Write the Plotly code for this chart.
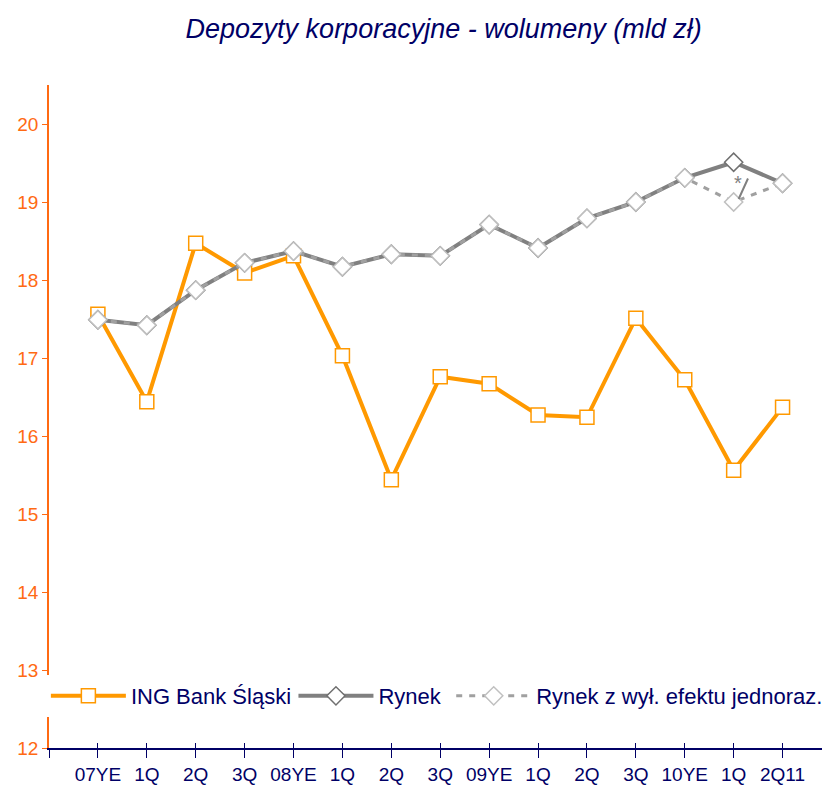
import plotly.graph_objects as go

categories = ["07YE", "1Q", "2Q", "3Q", "08YE", "1Q", "2Q", "3Q", "09YE",
              "1Q", "2Q", "3Q", "10YE", "1Q", "2Q11"]
ing = [17.56, 16.44, 18.47, 18.09, 18.31, 17.03, 15.44, 16.76, 16.67,
       16.27, 16.24, 17.51, 16.72, 15.56, 16.37]
rynek = [17.49, 17.42, 17.87, 18.22, 18.37, 18.17, 18.33, 18.31, 18.71,
         18.41, 18.79, 19.00, 19.31, 19.51, 19.24]
rynek_adj = [17.49, 17.42, 17.87, 18.22, 18.37, 18.17, 18.33, 18.31, 18.71,
             18.41, 18.79, 19.00, 19.31, 19.00, 19.24]
y_ticks = [12, 13, 14, 15, 16, 17, 18, 19, 20]

xs = list(range(len(categories)))
FONT = "Liberation Sans, Arial, sans-serif"
NAVY = "#000066"
ORANGE_AX = "#FF6A13"

fig = go.Figure()
fig.add_trace(go.Scatter(
    x=xs, y=ing, name="ING Bank Śląski", mode="lines+markers", legend="legend",
    line=dict(color="#FF9900", width=4),
    marker=dict(symbol="square", size=14, color="white",
                line=dict(color="#FF9900", width=1.5))))
fig.add_trace(go.Scatter(
    x=xs, y=rynek, name="Rynek", mode="lines+markers", legend="legend2",
    line=dict(color="#808080", width=4),
    marker=dict(symbol="diamond", size=14, color="white",
                line=dict(color="#707070", width=1.5))))
fig.add_trace(go.Scatter(
    x=xs, y=rynek_adj, name="Rynek z wył. efektu jednoraz.", mode="lines+markers",
    legend="legend3",
    line=dict(color="#A0A0A0", width=3, dash="6px,7px"),
    marker=dict(symbol="diamond", size=14, color="white",
                line=dict(color="#C0C0C0", width=1.5))))
# invisible helper trace so the overlaid tick axis is drawn
fig.add_trace(go.Scatter(x=[xs[0]], y=[ing[0]], xaxis="x2", mode="markers",
                         marker=dict(opacity=0), showlegend=False, hoverinfo="skip"))

fig.add_annotation(x=13, y=19.24, text="*", showarrow=False,
                   xshift=4, yshift=0,
                   font=dict(family=FONT, size=20, color="#808080"))
fig.add_annotation(x=13, y=19.0, ax=10, ay=-22, xshift=5, yshift=3,
                   text="", showarrow=True, arrowhead=0, arrowwidth=2,
                   arrowcolor="#808080")

def leg(x):
    return dict(orientation="h", x=x, y=0.0784, xanchor="left", yanchor="middle",
                bgcolor="white", font=dict(family=FONT, size=22, color=NAVY),
                itemwidth=75)

xrange = [-1, 14.97]
tickv = [-1] + xs

# page body has an 8px default margin: compensate so the plot lands where intended
fig.update_layout(
    width=822, height=779,
    margin=dict(l=41, r=0, t=77, b=39, autoexpand=False),
    paper_bgcolor="white", plot_bgcolor="white",
    title=dict(text="<i>Depozyty korporacyjne - wolumeny (mld zł)</i>",
               x=0.53, xanchor="center", y=0.974, yanchor="middle",
               font=dict(family=FONT, size=27, color=NAVY)),
    showlegend=True,
    legend=leg(-0.004),
    legend2=leg(0.313),
    legend3=leg(0.515),
    xaxis=dict(range=xrange, tickvals=tickv, ticktext=[""] + categories,
               showgrid=False, zeroline=False, showline=True, linecolor=NAVY,
               linewidth=1.5, ticks="outside", ticklen=8, tickcolor=NAVY,
               tickfont=dict(family=FONT, size=19, color=NAVY)),
    xaxis2=dict(range=xrange, tickvals=tickv, overlaying="x", anchor="y",
                side="bottom", showticklabels=False, showgrid=False,
                zeroline=False, showline=False, ticks="inside", ticklen=5,
                tickcolor=NAVY, tickwidth=1),
    yaxis=dict(range=[12, 20.5], tickvals=y_ticks, showgrid=False, zeroline=False,
               showline=True, linecolor=ORANGE_AX, linewidth=1.5, ticks="outside",
               ticklen=5, tickcolor=ORANGE_AX,
               tickfont=dict(family=FONT, size=19, color=ORANGE_AX)),
)

fig.write_html("out.html")
